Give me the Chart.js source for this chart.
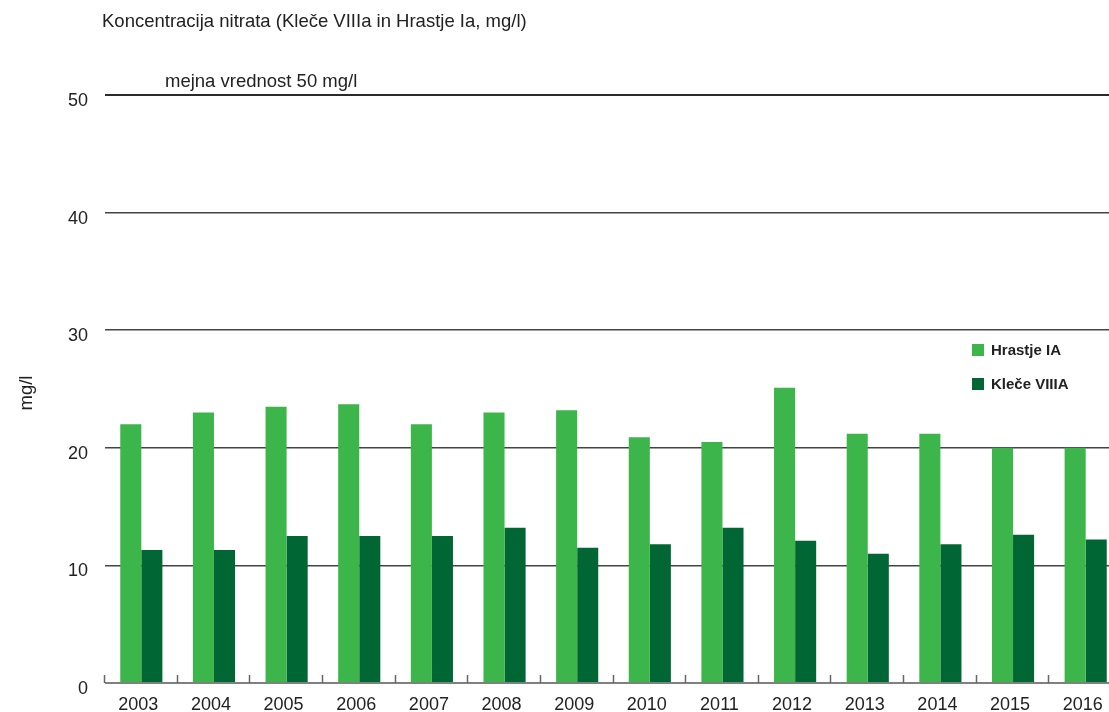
<!DOCTYPE html>
<html>
<head>
<meta charset="utf-8">
<script src="https://cdn.jsdelivr.net/npm/chart.js@4"></script>
<style>
  html, body { margin: 0; padding: 0; background: #fff; overflow: hidden; width: 1109px; height: 712px; }
  #wrap { position: relative; width: 1122px; height: 712px; }
</style>
</head>
<body>
<div id="wrap"><canvas id="c" width="1122" height="712"></canvas></div>
<script>
const years = ['2003','2004','2005','2006','2007','2008','2009','2010','2011','2012','2013','2014','2015','2016'];
const hrastje = [22.0, 23.0, 23.5, 23.7, 22.0, 23.0, 23.2, 20.9, 20.5, 25.1, 21.2, 21.2, 20.0, 20.0];
const klece = [11.3, 11.3, 12.5, 12.5, 12.5, 13.2, 11.5, 11.8, 13.2, 12.1, 11.0, 11.8, 12.6, 12.2];
const yTicks = [0, 10, 20, 30, 40, 50];
const seriesNames = ['Hrastje IA', 'Kleče VIIIA'];
const seriesColors = ['#3cb54a', '#006633'];
const titleText = 'Koncentracija nitrata (Kleče VIIIa in Hrastje Ia, mg/l)';
const limitText = 'mejna vrednost 50 mg/l';
const yUnit = 'mg/l';

const FONT = '"Liberation Sans", Arial, Helvetica, sans-serif';

const decorPlugin = {
  id: 'decor',
  afterDraw(chart) {
    const ctx = chart.ctx;
    const x = chart.scales.x, y = chart.scales.y;
    ctx.save();
    // category boundary ticks (upwards from axis)
    ctx.strokeStyle = '#666';
    ctx.lineWidth = 1.5;
    const n = years.length;
    const step = (x.right - x.left) / n;
    const base = y.getPixelForValue(0);
    for (let i = 0; i <= n; i++) {
      const px = Math.round(x.left + i * step) - 0.5;
      ctx.beginPath();
      ctx.moveTo(px, base);
      ctx.lineTo(px, base - 8);
      ctx.stroke();
    }
    // title
    ctx.fillStyle = '#222';
    ctx.font = '18.5px ' + FONT;
    ctx.textBaseline = 'alphabetic';
    ctx.textAlign = 'left';
    ctx.fillText(titleText, 102, 27);
    // limit label
    ctx.fillText(limitText, 165, 87);
    // y unit
    ctx.save();
    ctx.translate(32, 393);
    ctx.rotate(-Math.PI / 2);
    ctx.textAlign = 'center';
    ctx.fillText(yUnit, 0, 0);
    ctx.restore();
    // legend
    ctx.font = 'bold 15px ' + FONT;
    ctx.textBaseline = 'middle';
    const ly = [350, 384];
    for (let i = 0; i < 2; i++) {
      ctx.fillStyle = chart.data.datasets[i].backgroundColor;
      ctx.fillRect(972, ly[i] - 6, 12, 12);
      ctx.fillStyle = '#222';
      ctx.fillText(chart.data.datasets[i].label, 991, ly[i] + 1);
    }
    ctx.restore();
  }
};

new Chart(document.getElementById('c'), {
  type: 'bar',
  data: {
    labels: years,
    datasets: [
      { label: seriesNames[0], data: hrastje, backgroundColor: seriesColors[0], borderWidth: 0 },
      { label: seriesNames[1], data: klece, backgroundColor: seriesColors[1], borderWidth: 0 }
    ]
  },
  options: {
    responsive: false,
    animation: false,
    devicePixelRatio: 1,
    layout: { padding: { top: 95, right: 0, bottom: 0, left: 0 } },
    plugins: { legend: { display: false }, title: { display: false }, tooltip: { enabled: false } },
    datasets: { bar: { categoryPercentage: 0.58, barPercentage: 1.0 } },
    scales: {
      x: {
        offset: true,
        grid: { display: false },
        border: { display: false },
        ticks: { color: '#222', font: { family: FONT, size: 18 }, padding: 3, maxRotation: 0, autoSkip: false, labelOffset: -3 },
        afterFit(s) { s.height = 29; }
      },
      y: {
        min: 0, max: 50,
        afterBuildTicks(s) { s.ticks = yTicks.map(v => ({ value: v })); },
        grid: {
          drawTicks: false,
          color(ctx) { const v = ctx.tick.value; return v === 0 ? '#808080' : (v === 50 ? '#2a2a2a' : '#444'); },
          lineWidth(ctx) { const v = ctx.tick.value; return v === 0 ? 2 : (v === 50 ? 2 : 1.5); }
        },
        border: { display: false },
        ticks: { color: '#222', font: { family: FONT, size: 18 }, padding: 17, labelOffset: 6 },
        afterFit(s) { s.width = 105; }
      }
    }
  },
  plugins: [decorPlugin]
});
</script>
</body>
</html>
